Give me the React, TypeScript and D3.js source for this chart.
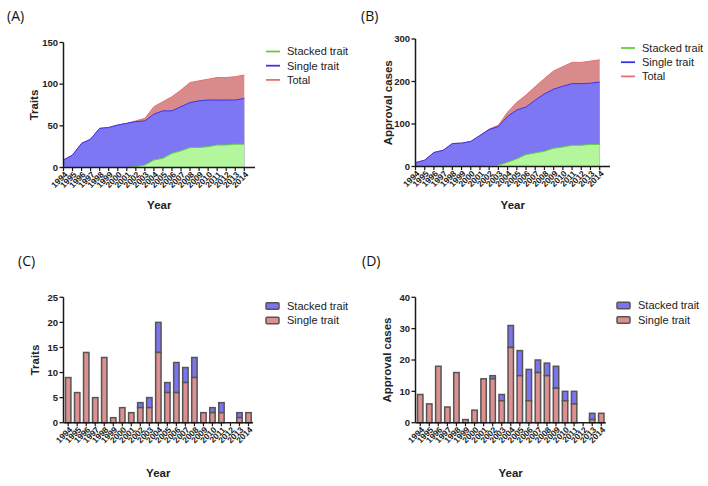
import React from 'react';
import * as d3 from 'd3';

const years = ['1994','1995','1996','1997','1998','1999','2000','2001','2002','2003','2004','2005','2006','2007','2008','2009','2010','2011','2012','2013','2014'];

// Panel A: cumulative traits
const traitsTotal = [9,15,29,34,47,48,51,53,56,59,73,79,85,93,102,104,106,108,108,109,111];
const traitsSingle = [9,15,29,34,47,48,51,53,55,56,64,68,68,73,78,80,81,81,81,81,83];
const traitsStacked = [0,0,0,0,0,0,0,0,1,3,9,11,17,20,24,24,25,27,27,28,28];

// Panel B: cumulative approval cases
const casesTotal = [9,15,33,38,54,55,59,73,88,97,128,151,168,188,207,225,235,245,245,248,251];
const casesSingle = [9,15,33,38,54,55,59,73,87,94,118,133,140,156,171,182,189,195,195,196,199];
const casesStacked = [0,0,0,0,0,0,0,0,1,3,10,18,28,32,36,43,46,50,50,52,52];

// Panel C: traits per year
const traitsSingleYr = [9,6,14,5,13,1,3,2,3,3,14,6,6,8,9,2,2,2,0,1,2];
const traitsStackedYr = [0,0,0,0,0,0,0,0,1,2,6,2,6,3,4,0,1,2,0,1,0];

// Panel D: approval cases per year
const casesSingleYr = [9,6,18,5,16,1,4,14,14,7,24,15,7,16,15,11,7,6,0,1,3];
const casesStackedYr = [0,0,0,0,0,0,0,0,1,2,7,8,10,4,4,7,3,4,0,2,0];

const ticksA = [0, 50, 100, 150];
const ticksB = [0, 100, 200, 300];
const ticksC = [0, 5, 10, 15, 20, 25];
const ticksD = [0, 10, 20, 30, 40];

const areaLegend = ['Stacked trait', 'Single trait', 'Total'];
const barLegend = ['Stacked trait', 'Single trait'];

const FONT = "'Liberation Sans', Arial, Helvetica, sans-serif";
const TITLE_FONT = "'Open Sans', 'Noto Sans', sans-serif";
const AXIS = '#1a1a1a';

const C = {
  greenFill: '#b3f69c', greenLine: '#62cf3d',
  blueFill: '#7d77f4', blueLine: '#3d33ea',
  redFill: '#d98b8b', redLine: '#e37272',
  barRed: '#de8f8f', barBlue: '#7b73f2', barStroke: '#555555',
};

function YAxis({ x, scale, ticks, y0, y1 }: any) {
  return (
    <g>
      <line x1={x} x2={x} y1={y0} y2={y1} stroke={AXIS} strokeWidth={1.5} />
      {ticks.map((t: number) => (
        <g key={t}>
          <line x1={x - 4} x2={x} y1={scale(t)} y2={scale(t)} stroke={AXIS} strokeWidth={1.3} />
          <text x={x - 5.5} y={scale(t)} dy="0.35em" textAnchor="end" fontFamily={FONT} fontWeight="bold" fontSize={9.5} fill="#222">{t}</text>
        </g>
      ))}
    </g>
  );
}

function XLabels({ positions, y }: any) {
  return (
    <g>
      {years.map((yr, i) => (
        <g key={yr}>
          <line x1={positions[i]} x2={positions[i]} y1={y} y2={y + 3.5} stroke={AXIS} strokeWidth={1.2} />
          <text transform={`translate(${positions[i] + 2.5},${y + 5.5}) rotate(-45)`} dy="0.35em" textAnchor="end" fontFamily={FONT} fontWeight="bold" fontSize={8.5} fill="#222">{yr}</text>
        </g>
      ))}
    </g>
  );
}

function AreaPanel({ title, titleX, axisX, axisEnd, xFirst, xLast, yTop, yBottom, yMax, ticks, yLabel, yLabelX, total, single, stacked, legX, legY }: any) {
  const x = d3.scaleLinear().domain([0, years.length - 1]).range([xFirst, xLast]);
  const y = d3.scaleLinear().domain([0, yMax]).range([yBottom, yTop]);
  const area = d3.area<number>().x((_, i) => x(i)).y0(y(0)).y1(d => y(d));
  const line = d3.line<number>().x((_, i) => x(i)).y(d => y(d));
  const positions = years.map((_, i) => x(i));
  const series = [
    { data: total, fill: C.redFill, stroke: C.redLine },
    { data: single, fill: C.blueFill, stroke: C.blueLine },
    { data: stacked, fill: C.greenFill, stroke: C.greenLine },
  ];
  const legColors = [C.greenLine, C.blueLine, C.redLine];
  const midX = (axisX + axisEnd) / 2;
  return (
    <g>
      <text x={titleX} y={21} fontFamily={TITLE_FONT} fontSize={14} fill="#111">{title}</text>
      {series.map((s, k) => (
        <g key={k}>
          <path d={area(s.data) || ''} fill={s.fill} />
          <path d={line(s.data) || ''} fill="none" stroke={s.stroke} strokeWidth={1} />
        </g>
      ))}
      <line x1={axisX} x2={axisEnd} y1={yBottom} y2={yBottom} stroke={AXIS} strokeWidth={1.5} />
      <YAxis x={axisX} scale={y} ticks={ticks} y0={yBottom} y1={yTop} />
      <XLabels positions={positions} y={yBottom} />
      <text transform={`translate(${yLabelX},${(yTop + yBottom) / 2}) rotate(-90)`} dy="0.35em" textAnchor="middle" fontFamily={FONT} fontWeight="bold" fontSize={11.5} fill="#222">{yLabel}</text>
      <text x={midX} y={209} textAnchor="middle" fontFamily={FONT} fontWeight="bold" fontSize={11.5} fill="#222">Year</text>
      {areaLegend.map((name, i) => (
        <g key={name}>
          <line x1={legX} x2={legX + 14} y1={legY + i * 14.2} y2={legY + i * 14.2} stroke={legColors[i]} strokeWidth={1.8} />
          <text x={legX + 21} y={legY + i * 14.2} dy="0.35em" fontFamily={FONT} fontSize={11} fill="#222">{name}</text>
        </g>
      ))}
    </g>
  );
}

function BarPanel({ title, titleX, axisX, axisEnd, yTop, yBottom, yMax, ticks, yLabel, yLabelX, single, stacked, legX, legY }: any) {
  const x = d3.scaleBand<string>().domain(years).range([axisX + 0.2, axisEnd]).paddingInner(0.4).paddingOuter(0.2);
  const y = d3.scaleLinear().domain([0, yMax]).range([yBottom, yTop]);
  const positions = years.map(yr => (x(yr) as number) + x.bandwidth() / 2);
  const midX = (axisX + axisEnd) / 2;
  return (
    <g>
      <text x={titleX} y={266} fontFamily={TITLE_FONT} fontSize={14} fill="#111">{title}</text>
      {years.map((yr, i) => {
        const s = single[i];
        const t = single[i] + stacked[i];
        if (t === 0) return null;
        const bx = x(yr) as number;
        const bw = x.bandwidth();
        return (
          <g key={yr}>
            {stacked[i] > 0 && <rect x={bx} y={y(t)} width={bw} height={y(s) - y(t)} fill={C.barBlue} stroke={C.barStroke} strokeWidth={1.5} />}
            {s > 0 && <rect x={bx} y={y(s)} width={bw} height={y(0) - y(s)} fill={C.barRed} stroke={C.barStroke} strokeWidth={1.5} />}
          </g>
        );
      })}
      <line x1={axisX} x2={axisEnd} y1={yBottom} y2={yBottom} stroke={AXIS} strokeWidth={1.5} />
      <YAxis x={axisX} scale={y} ticks={ticks} y0={yBottom} y1={yTop} />
      <XLabels positions={positions} y={yBottom} />
      <text transform={`translate(${yLabelX},${(yTop + yBottom) / 2}) rotate(-90)`} dy="0.35em" textAnchor="middle" fontFamily={FONT} fontWeight="bold" fontSize={11.5} fill="#222">{yLabel}</text>
      <text x={midX} y={477} textAnchor="middle" fontFamily={FONT} fontWeight="bold" fontSize={11.5} fill="#222">Year</text>
      {barLegend.map((name, i) => (
        <g key={name}>
          <rect x={legX} y={legY + i * 14.5 - 3.3} width={13} height={6.6} rx={1} fill={i === 0 ? C.barBlue : C.barRed} stroke={C.barStroke} strokeWidth={1.5} />
          <text x={legX + 21} y={legY + i * 14.5} dy="0.35em" fontFamily={FONT} fontSize={11} fill="#222">{name}</text>
        </g>
      ))}
    </g>
  );
}

export default function App() {
  return (
    <svg width={708} height={486} style={{ position: 'absolute', left: 0, top: 0, background: '#fff' }}>
      <rect width={708} height={486} fill="#fff" />
      <AreaPanel title="(A)" titleX={7} axisX={63.5} axisEnd={255} xFirst={63.5} xLast={244.3} yTop={42.5} yBottom={167.5} yMax={150} ticks={ticksA} yLabel="Traits" yLabelX={33.5} total={traitsTotal} single={traitsSingle} stacked={traitsStacked} legX={266} legY={51.5} />
      <AreaPanel title="(B)" titleX={361} axisX={415.5} axisEnd={610} xFirst={415.5} xLast={599.7} yTop={39} yBottom={166.5} yMax={300} ticks={ticksB} yLabel="Approval cases" yLabelX={388} total={casesTotal} single={casesSingle} stacked={casesStacked} legX={621} legY={48} />
      <BarPanel title="(C)" titleX={18} axisX={63.5} axisEnd={253} yTop={297.3} yBottom={422.7} yMax={25} ticks={ticksC} yLabel="Traits" yLabelX={35} single={traitsSingleYr} stacked={traitsStackedYr} legX={266} legY={306} />
      <BarPanel title="(D)" titleX={362} axisX={415.5} axisEnd={605.8} yTop={297.3} yBottom={422.7} yMax={40} ticks={ticksD} yLabel="Approval cases" yLabelX={387} single={casesSingleYr} stacked={casesStackedYr} legX={617} legY={305.5} />
    </svg>
  );
}
